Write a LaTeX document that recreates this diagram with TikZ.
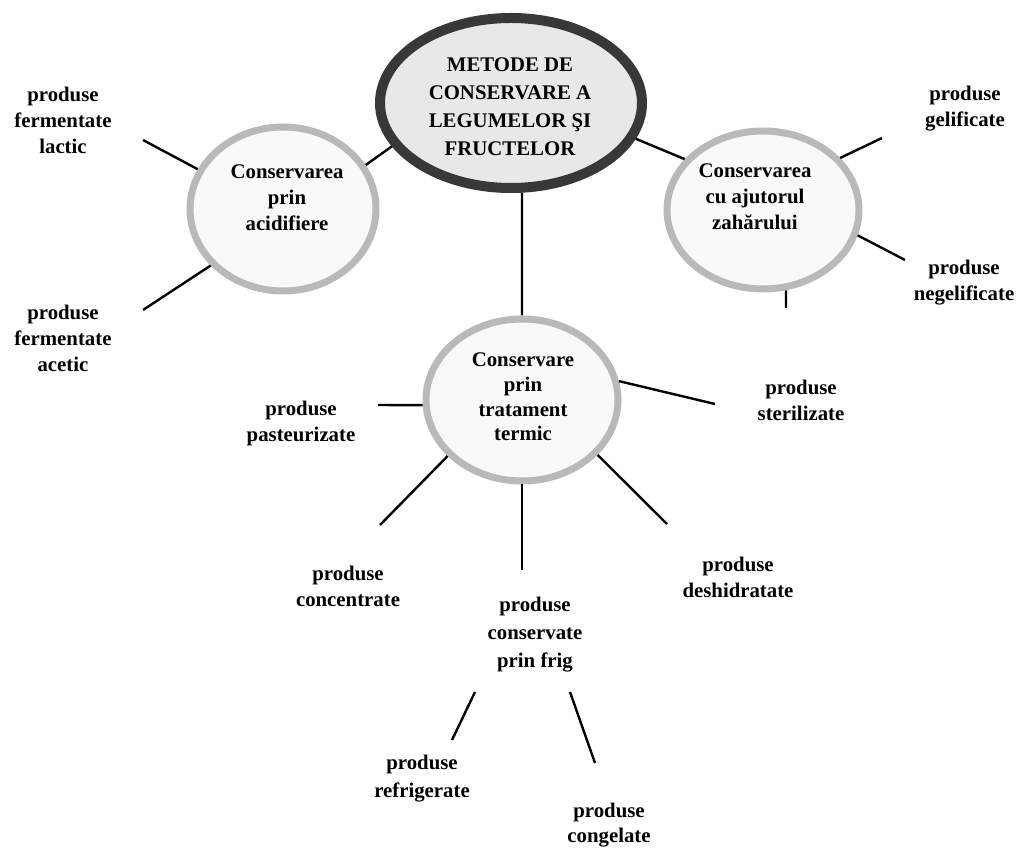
\documentclass[tikz,border=0pt]{standalone}
\usepackage{fontspec}
\setmainfont{Liberation Serif}
\usepackage{xcolor}
\usetikzlibrary{shapes.geometric}
\colorlet{RingGray}{gray!55}
\colorlet{DarkRing}{black!78}
\colorlet{LightFill}{gray!18}
\colorlet{PaleFill}{gray!5}
\tikzstyle{MainBlock}=[ellipse,draw=DarkRing,fill=LightFill,line width=5pt,minimum width=131pt,minimum height=85pt,inner sep=0pt]
\tikzstyle{MethodBlock}=[ellipse,draw=RingGray,fill=PaleFill,line width=3.5pt,inner sep=0pt]
\tikzstyle{textNode}=[align=center,inner sep=0pt,font=\fontsize{10.4pt}{13pt}\selectfont\bfseries]
\tikzstyle{branchLine}=[line width=1.2pt]

\begin{document}
\begin{tikzpicture}[x=0.5pt,y=-0.5pt]
    \useasboundingbox (0,0) rectangle (1022,849);

        % Main method
        \node[MainBlock] (main) at (511,103) {};
        \node[textNode,font=\fontsize{10.4pt}{14pt}\selectfont\bfseries] (mainText) at (510,107) {METODE DE\\CONSERVARE A\\LEGUMELOR ŞI\\FRUCTELOR};

        % Methods
        \node[MethodBlock,minimum width=93pt,minimum height=82pt] (acid) at (283,209) {};
        \node[textNode] (acidText) at (287,198) {Conservarea\\prin\\acidifiere};
        \node[MethodBlock,minimum width=96pt,minimum height=79pt] (sugar) at (763,210) {};
        \node[textNode] (sugarText) at (755,197) {Conservarea\\cu ajutorul\\zahărului};
        \node[MethodBlock,minimum width=96pt,minimum height=81pt] (heat) at (522,400) {};
        \node[textNode,font=\fontsize{10.4pt}{12.4pt}\selectfont\bfseries] (heatText) at (523,397) {Conservare\\prin\\tratament\\termic};

        % Main -> Methods
        \draw[branchLine] (main.200) -- (acid.28);
        \draw[branchLine] (main.344) -- (sugar.147);
        \draw[branchLine] (main.277) -- (heat.north);

        % Products / acidifiere
        \node[textNode] (lactic) at (63,120) {produse\\fermentate\\lactic};
        \node[textNode] (acetic) at (63,338) {produse\\fermentate\\acetic};
        \coordinate (lacticEnd) at (143,140);
        \coordinate (aceticEnd) at (143,310);
        \draw[branchLine] (acid.155) -- (lacticEnd);
        \draw[branchLine] (acid.218) -- (aceticEnd);

        % Products / zahar
        \node[textNode] (gelif) at (965,109) {produse\\gelificate};
        \node[textNode] (negelif) at (964,283) {produse\\negelificate};
        \coordinate (gelifEnd) at (882,138);
        \coordinate (negelifEnd) at (905,260);
        \coordinate (sugarEnd) at (786,308);
        \draw[branchLine] (sugar.34) -- (gelifEnd);
        \draw[branchLine] (sugar.-15) -- (negelifEnd);
        \draw[branchLine] (sugar.-74) -- (sugarEnd);

        % Products / tratament termic
        \node[textNode] (pasteur) at (301,423) {produse\\pasteurizate};
        \node[textNode] (steril) at (801,400) {produse\\sterilizate};
        \node[textNode] (concent) at (348,586) {produse\\concentrate};
        \node[textNode] (deshidr) at (738,577) {produse\\deshidratate};
        \node[textNode,font=\fontsize{10.4pt}{14pt}\selectfont\bfseries] (frig) at (535,635) {produse\\conservate\\prin frig};
        \coordinate (pasteurEnd) at (378,405);
        \coordinate (sterilEnd) at (715,404);
        \coordinate (concentEnd) at (380,525);
        \coordinate (frigEnd) at (522,570);
        \coordinate (deshidrEnd) at (667,524);
        \draw[branchLine] (heat.183) -- (pasteurEnd);
        \draw[branchLine] (heat.11) -- (sterilEnd);
        \draw[branchLine] (heat.217) -- (concentEnd);
        \draw[branchLine] (heat.south) -- (frigEnd);
        \draw[branchLine] (heat.-36) -- (deshidrEnd);

        % Products / frig
        \node[textNode,font=\fontsize{10.4pt}{14pt}\selectfont\bfseries] (refrig) at (422,779) {produse\\refrigerate};
        \node[textNode,font=\fontsize{10.4pt}{12.4pt}\selectfont\bfseries] (congel) at (609,825) {produse\\congelate};
        \coordinate (refrigTop) at (475,692);
        \coordinate (refrigEnd) at (452,740);
        \coordinate (congelTop) at (570,692);
        \coordinate (congelEnd) at (595,763);
        \draw[branchLine] (refrigTop) -- (refrigEnd);
        \draw[branchLine] (congelTop) -- (congelEnd);

\end{tikzpicture}
\end{document}
